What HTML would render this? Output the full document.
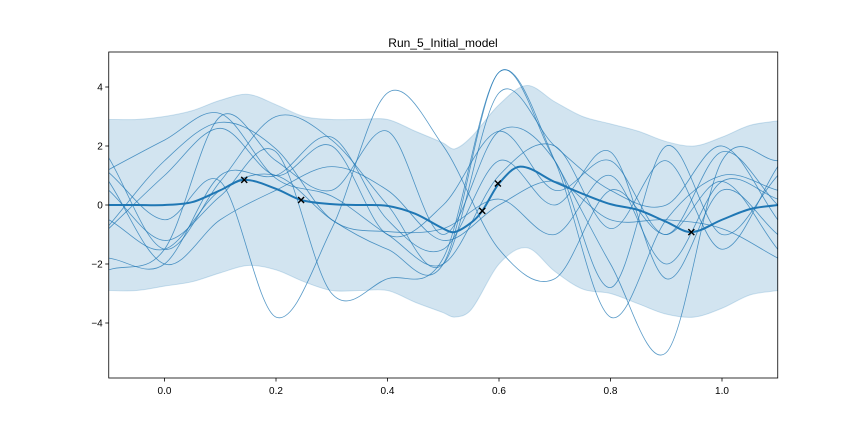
<!DOCTYPE html>
<html><head><meta charset="utf-8"><style>
body{margin:0;background:#fff;}
svg{display:block;font-family:"Liberation Sans","DejaVu Sans",sans-serif;}
</style></head><body>
<svg id="chart" width="864" height="432">
<defs><clipPath id="clip"><rect x="108.75" y="52" width="669" height="326"/></clipPath></defs>
<rect x="0" y="0" width="864" height="432" fill="#fff"/>
<g id="plot" clip-path="url(#clip)"></g>
<g id="axes"></g>
<text x="443" y="47" text-anchor="middle" font-size="12" fill="#000">Run_5_Initial_model</text>
</svg>
<script>
const bandX = [-0.1,-0.05,0,0.05,0.1,0.15,0.2,0.25,0.3,0.35,0.4,0.45,0.5,0.52,0.55,0.6,0.65,0.7,0.75,0.8,0.85,0.9,0.95,1.0,1.05,1.1];
const upper = [2.9,2.9,3.0,3.2,3.55,3.75,3.4,3.0,2.9,2.9,2.9,2.5,2.1,1.9,2.3,3.4,4.05,3.5,3.0,2.75,2.5,2.15,2.0,2.3,2.7,2.85];
const lower = [-2.9,-2.9,-2.75,-2.6,-2.3,-2.05,-2.2,-2.6,-2.9,-2.9,-2.9,-3.3,-3.65,-3.8,-3.55,-2.0,-1.45,-2.25,-2.85,-3.0,-3.35,-3.7,-3.8,-3.5,-3.05,-2.9];
const meanX = [-0.1,-0.05,0,0.05,0.1,0.143,0.2,0.245,0.3,0.35,0.4,0.45,0.5,0.52,0.55,0.57,0.6,0.638,0.7,0.75,0.8,0.85,0.9,0.945,1.0,1.05,1.1];
const meanY = [0,0,0,0.1,0.5,0.85,0.55,0.17,0.03,0,-0.03,-0.3,-0.8,-0.92,-0.6,-0.2,0.73,1.3,0.78,0.38,0.03,-0.17,-0.57,-0.92,-0.5,-0.14,0];
const obsX = [0.143,0.245,0.57,0.598,0.945];
const obsY = [0.85,0.17,-0.2,0.73,-0.92];
const sampleX = [-0.1,0,0.1,0.2,0.3,0.4,0.5,0.6,0.7,0.8,0.9,1.0,1.1];
const s1 = [1.1,-0.5,0.8,-3.8,-0.8,3.8,2.0,-1.5,-2.5,0.5,-1.0,0.8,-1.5];
const s2 = [0.5,-1.2,0.3,1.8,-3.0,-2.5,-1.8,4.5,1.5,-3.8,-0.5,1.0,0.5];
const s3 = [-0.5,-1.5,0.5,1.0,-0.5,-1.5,-2.0,4.5,1.5,-2.0,-5.0,1.5,1.5];
const s4 = [1.6,-1.5,0.8,3.0,2.2,0.0,-2.0,3.8,2.0,0.5,0.0,2.0,-0.5];
const s5 = [-2.2,-1.5,3.0,1.5,0.5,2.5,-1.0,2.5,1.5,-2.8,2.0,-1.0,1.0];
const s6 = [-0.8,1.0,2.6,1.0,2.0,-1.0,0.0,2.5,0.5,1.5,-1.0,1.8,0.0];
const s7 = [-1.8,-2.0,1.0,1.0,2.3,-0.5,-1.5,1.5,0.0,1.8,-2.5,0.5,-1.0];
const s8 = [0.8,-2.0,-0.5,0.5,1.3,0.5,-1.2,0.0,0.8,-0.5,-0.5,-0.8,-1.8];
const s9 = [-0.7,1.5,2.8,1.9,-0.5,-0.9,-0.8,0.2,-1.0,1.0,-2.0,0.8,0.2];
const s10 = [1.2,2.2,3.1,0.9,0.3,-1.0,-2.0,1.0,2.0,-0.8,1.5,-1.5,1.3];
const samples = [s1,s2,s3,s4,s5,s6,s7,s8,s9,s10];
const xTicks = [0,0.2,0.4,0.6,0.8,1.0];
const xTickLabels = ["0.0","0.2","0.4","0.6","0.8","1.0"];
const yTicks = [-4,-2,0,2,4];
const yTickLabels = ["\u22124","\u22122","0","2","4"];

const X0=108.75,X1=777.75,Y0=52,Y1=378;
const xs = v => X0 + (v+0.1)/1.2*(X1-X0);
const ys = v => 205 - v*29.5;
const NS="http://www.w3.org/2000/svg";
function el(t,a,p){const e=document.createElementNS(NS,t);for(const k in a)e.setAttribute(k,a[k]);p.appendChild(e);return e;}
function smooth(px,py){
  let d=`M${px[0]},${py[0]}`;
  for(let i=0;i<px.length-1;i++){
    const x0=px[Math.max(i-1,0)],y0=py[Math.max(i-1,0)],x1=px[i],y1=py[i],x2=px[i+1],y2=py[i+1],x3=px[Math.min(i+2,px.length-1)],y3=py[Math.min(i+2,px.length-1)];
    const t=(x2-x1);
    const m1=(y2-y0)/(x2-x0||1), m2=(y3-y1)/(x3-x1||1);
    d+=` C${x1+t/3},${y1+m1*t/3} ${x2-t/3},${y2-m2*t/3} ${x2},${y2}`;
  }
  return d;
}
const plot=document.getElementById('plot');
const ux=bandX.map(xs), uy=upper.map(ys), ly=lower.map(ys);
let bd=smooth(ux,uy);
const rx=ux.slice().reverse(), ry=ly.slice().reverse();
bd+=' L'+smooth(rx,ry).slice(1)+' Z';
const band=el('path',{d:bd,fill:'#1f77b4','fill-opacity':'0.2',stroke:'#1f77b4','stroke-opacity':'0.2'},plot);


samples.forEach((s,i)=>{
  const p=el('path',{d:smooth(sampleX.map(xs),s.map(ys)),fill:'none',stroke:'#1f77b4','stroke-width':'0.8','stroke-opacity':'0.75'},plot);
  
  
});
const m=el('path',{d:smooth(meanX.map(xs),meanY.map(ys)),fill:'none',stroke:'#1f77b4','stroke-width':'2'},plot);


obsX.forEach((v,i)=>{
  const cx=xs(v),cy=ys(obsY[i]);
  const g=el('path',{d:`M${cx-3},${cy-3}L${cx+3},${cy+3}M${cx-3},${cy+3}L${cx+3},${cy-3}`,stroke:'#000','stroke-width':'1.4'},plot);
  
  
});
const axes=document.getElementById('axes');
const fr=el('rect',{x:X0,y:Y0,width:X1-X0,height:Y1-Y0,fill:'none',stroke:'#000','stroke-width':'0.8'},axes);


xTicks.forEach((v,i)=>{
  const x=xs(v);
  el('line',{x1:x,x2:x,y1:Y1,y2:Y1+3.5,stroke:'#000','stroke-width':'0.8'},axes);
  const t=el('text',{x:x,y:Y1+16,'text-anchor':'middle','font-size':'10',fill:'#000'},axes);
  t.textContent=xTickLabels[i];
  
  
});
yTicks.forEach((v,i)=>{
  const y=ys(v);
  el('line',{x1:X0-3.5,x2:X0,y1:y,y2:y,stroke:'#000','stroke-width':'0.8'},axes);
  const t=el('text',{x:X0-6,y:y+3.5,'text-anchor':'end','font-size':'10',fill:'#000'},axes);
  t.textContent=yTickLabels[i];
  
  
});
</script>
</body></html>
